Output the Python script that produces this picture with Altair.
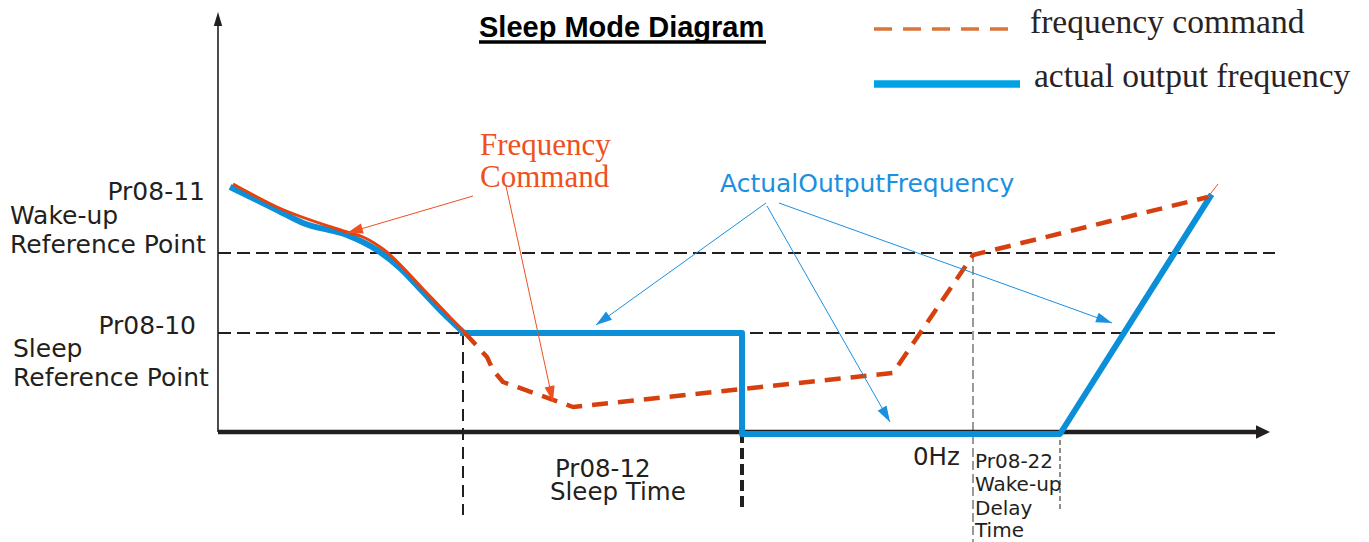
import math
import altair as alt
import pandas as pd

# ---------------- data (t = time units, f = frequency units; origin at axes crossing) -------------
# actual output frequency: falling curve, then sleep step, then wake-up ramp
out_curve_t = [12, 59, 85, 129, 159, 182, 205, 225, 246]
out_curve_f = [245, 222, 209, 197, 182, 164, 140, 119, 99]
out_step_t = [245, 524, 524, 842, 992]
out_step_f = [99, 99, -2, -2, 235]

# frequency command: solid part (tracks output) and dashed part
cmd_curve_t = [15, 59, 129, 145, 165, 205, 247]
cmd_curve_f = [248, 225, 200, 195, 183, 143, 99]
cmd_dash_t = [247, 269, 275, 285, 355, 675, 755, 990]
cmd_dash_f = [99, 75, 62, 50, 25, 59, 177, 235]
cmd_tip_t = [990, 1000]
cmd_tip_f = [235, 248]

wake_level = 179
sleep_level = 99
ref_end = 1057

# vertical markers: t, f_top, f_bottom
vmark_black_t = [245]
vmark_black_top = [99]
vmark_black_bot = [-83]
vmark_thick_t = [524]
vmark_thick_top = [0]
vmark_thick_bot = [-80]
vmark_gray_t = [755]
vmark_gray_top = [179]
vmark_gray_bot = [-110]
vmark_thin_t = [842]
vmark_thin_top = [0]
vmark_thin_bot = [-78]

# annotation arrows (start t,f -> tip t,f)
red_arrow_t0 = [255, 288]
red_arrow_f0 = [236, 246]
red_arrow_t1 = [129, 335]
red_arrow_f1 = [199, 30]
blue_arrow_t0 = [548, 549, 561]
blue_arrow_f0 = [229, 226, 229]
blue_arrow_t1 = [378, 672, 894]
blue_arrow_f1 = [107, 10, 109]

# axes
y_axis_top = 406
y_axis_tip = 420
x_axis_end = 1040
x_axis_tip = 1052

# legend
legend_labels = ["frequency command", "actual output frequency"]
legend_line_t = [656, 791, 656, 802]
legend_line_f = [403, 348]
legend_text_t = [812, 816]
legend_text_f = [399, 345]

# texts
title_text = "Sleep Mode Diagram"
title_t, title_f = 261, 395
underline_t = [261, 548]
underline_f = 390

red_label = ["Frequency", "Command"]
red_label_t = [262, 262]
red_label_f = [277, 245]

blue_label = ["ActualOutputFrequency"]
blue_label_t = [502]
blue_label_f = [240]

left_right_labels = ["Pr08-11", "Pr08-10"]
left_right_t = [-13, -22]
left_right_f = [232, 98]

left_labels = ["Wake-up", "Reference Point", "Sleep", "Reference Point"]
left_labels_t = [-208, -208, -205, -205]
left_labels_f = [208, 179, 75, 46]

bottom_labels = ["Pr08-12", "Sleep Time", "0Hz"]
bottom_labels_t = [337, 332, 695]
bottom_labels_f = [-45, -68, -33]

small_labels = ["Pr08-22", "Wake-up", "Delay", "Time"]
small_labels_t = [757, 757, 757, 757]
small_labels_f = [-36, -59, -83, -105]

# ---------------- styling -------------
BLACK = "#231F20"
RED_LINE = "#D6400E"
RED_TEXT = "#EE5020"
BLUE_LINE = "#0A8FD8"
BLUE_TEXT = "#1B8FE0"
SANS = "DejaVu Sans"
SERIF = "Liberation Serif"

xs = alt.Scale(domain=[-210, 1143], nice=False, zero=False)
ys = alt.Scale(domain=[-110, 424], nice=False, zero=False)
X = alt.X("t:Q", scale=xs, axis=None)
Y = alt.Y("f:Q", scale=ys, axis=None)


def line_layer(ts, fs, color, width, dash=None, interpolate="linear", cap="butt"):
    df = pd.DataFrame({"t": ts, "f": fs, "o": list(range(len(ts)))})
    kw = dict(color=color, strokeWidth=width, interpolate=interpolate,
              strokeCap=cap, strokeJoin="round", clip=False)
    if dash:
        kw["strokeDash"] = dash
    return alt.Chart(df).mark_line(**kw).encode(x=X, y=Y, order="o:Q")


def seg_layer(t0, f0, t1, f1, color, width, dash=None, cap="butt"):
    df = pd.DataFrame({"t": t0, "f": f0, "t2": t1, "f2": f1})
    kw = dict(color=color, strokeWidth=width, strokeCap=cap, clip=False)
    if dash:
        kw["strokeDash"] = dash
    return alt.Chart(df).mark_rule(**kw).encode(
        x=X, y=Y, x2=alt.X2("t2:Q"), y2=alt.Y2("f2:Q"))


def head_layer(t0, f0, t1, f1, color, size, shape):
    ang = [math.degrees(math.atan2(b - a, d - c)) % 360 for a, b, c, d in zip(t0, t1, f0, f1)]
    df = pd.DataFrame({"t": t1, "f": f1, "a": ang})
    return alt.Chart(df).mark_point(shape=shape, filled=True, opacity=1, color=color,
                                    size=size, strokeWidth=0, clip=False).encode(
        x=X, y=Y, angle=alt.Angle("a:Q", scale=None))


def text_layer(texts, ts, fs, font, size, color, align="left", weight="normal"):
    df = pd.DataFrame({"txt": texts, "t": ts, "f": fs})
    return alt.Chart(df).mark_text(font=font, fontSize=size, color=color, align=align,
                                   baseline="alphabetic", fontWeight=weight, clip=False).encode(
        x=X, y=Y, text="txt:N")


ARROW = "M0,0L0.7,2.2L-0.7,2.2Z"
layers = []

# reference dashed lines
layers.append(seg_layer([0, 0], [wake_level, sleep_level], [ref_end, ref_end],
                        [wake_level, sleep_level], BLACK, 2, dash=[13, 6]))
# vertical markers
layers.append(seg_layer(vmark_black_t, vmark_black_top, vmark_black_t, vmark_black_bot, BLACK, 2, dash=[12, 7]))
layers.append(seg_layer(vmark_thick_t, vmark_thick_top, vmark_thick_t, vmark_thick_bot, BLACK, 4, dash=[11, 5]))
layers.append(seg_layer(vmark_gray_t, vmark_gray_top, vmark_gray_t, vmark_gray_bot, "#7A7A7A", 1.5, dash=[9, 4]))
layers.append(seg_layer(vmark_thin_t, vmark_thin_top, vmark_thin_t, vmark_thin_bot, "#444444", 1.2, dash=[5, 3]))

# axes
layers.append(seg_layer([0], [0], [0], [y_axis_top], BLACK, 1.6))
layers.append(seg_layer([0], [0], [x_axis_end], [0], BLACK, 4.5))
layers.append(head_layer([0], [0], [0], [y_axis_tip], BLACK, 196, "M0,0L0.6,2L-0.6,2Z"))
layers.append(head_layer([0], [0], [x_axis_tip], [0], BLACK, 196, "M0,0L0.95,2L-0.95,2Z"))

# actual output frequency
layers.append(line_layer(out_curve_t, out_curve_f, BLUE_LINE, 6, interpolate="monotone"))
layers.append(line_layer(out_step_t, out_step_f, BLUE_LINE, 6, cap="square"))

# frequency command
layers.append(line_layer(cmd_curve_t, cmd_curve_f, "#E8420C", 3, interpolate="monotone"))
layers.append(line_layer(cmd_dash_t, cmd_dash_f, RED_LINE, 4.5, dash=[16, 10]))
layers.append(line_layer(cmd_tip_t, cmd_tip_f, "#F0501E", 1))

# annotation arrows
layers.append(seg_layer(red_arrow_t0, red_arrow_f0, red_arrow_t1, red_arrow_f1, RED_TEXT, 1))
layers.append(head_layer(red_arrow_t0, red_arrow_f0, red_arrow_t1, red_arrow_f1, RED_TEXT, 211, ARROW))
layers.append(seg_layer(blue_arrow_t0, blue_arrow_f0, blue_arrow_t1, blue_arrow_f1, BLUE_TEXT, 1))
layers.append(head_layer(blue_arrow_t0, blue_arrow_f0, blue_arrow_t1, blue_arrow_f1, BLUE_TEXT, 211, ARROW))

# legend
layers.append(seg_layer([legend_line_t[0]], [legend_line_f[0]], [legend_line_t[1]], [legend_line_f[0]],
                        "#D9743A", 3.5, dash=[18, 11]))
layers.append(seg_layer([legend_line_t[2]], [legend_line_f[1]], [legend_line_t[3]], [legend_line_f[1]],
                        "#00A2E6", 7.5))
layers.append(text_layer(legend_labels, legend_text_t, legend_text_f, SERIF, 33.5, "#2A2224"))

# title
layers.append(text_layer([title_text], [title_t], [title_f], "Liberation Sans", 29, "#000000", weight="bold"))
layers.append(seg_layer([underline_t[0]], [underline_f], [underline_t[1]], [underline_f], "#000000", 3.3))

# labels
layers.append(text_layer(red_label, red_label_t, red_label_f, SERIF, 31, RED_TEXT))
layers.append(text_layer(blue_label, blue_label_t, blue_label_f, SANS, 25, BLUE_TEXT))
layers.append(text_layer(left_right_labels, left_right_t, left_right_f, SANS, 25, BLACK, align="right"))
layers.append(text_layer(left_labels, left_labels_t, left_labels_f, SANS, 25, BLACK))
layers.append(text_layer(bottom_labels, bottom_labels_t, bottom_labels_f, SANS, 24.5, BLACK))
layers.append(text_layer(small_labels, small_labels_t, small_labels_f, SANS, 20, BLACK))

chart = alt.layer(*layers).properties(
    width=1353, height=534, padding=0,
    autosize=alt.AutoSizeParams(type="none"),
).configure_view(stroke=None)

chart.save("out.html", embed_options={"renderer": "svg", "actions": False})
